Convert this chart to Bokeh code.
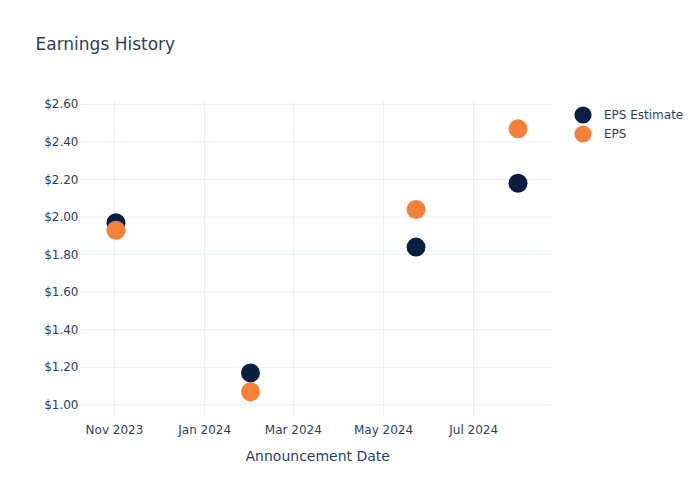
from datetime import datetime
from bokeh.plotting import figure
from bokeh.models import (ColumnDataSource, FixedTicker, DatetimeTickFormatter,
                          NumeralTickFormatter, Range1d, Legend, LegendItem, Title)
from bokeh.embed import file_html
from bokeh.resources import INLINE

# ---- data ----
dates = ["2023-11-02", "2024-02-01", "2024-05-23", "2024-07-31"]
eps_estimate = [1.97, 1.17, 1.84, 2.18]
eps_actual = [1.93, 1.07, 2.04, 2.47]
x_tick_dates = ["2023-11-01", "2024-01-01", "2024-03-01", "2024-05-01", "2024-07-01"]
y_ticks = [1.0, 1.2, 1.4, 1.6, 1.8, 2.0, 2.2, 2.4, 2.6]

FONT = "DejaVu Sans"
TXT = "#2a3f5f"
GRID = "#ebf0f8"
NAVY = "#0b1f42"
ORANGE = "#f5803a"

# plotting window (data area) and layout
X_START, X_END = "2023-10-09", "2024-08-24"
Y_START, Y_END = 0.943, 2.621
PLOT_W, FRAME_LEFT, DATA_RIGHT = 700, 80, 553


def to_dt(s):
    return datetime.strptime(s, "%Y-%m-%d")


def to_ms(s):
    return (to_dt(s) - datetime(1970, 1, 1)).total_seconds() * 1000.0


# extend the frame to the right edge so that the legend lives inside it
x0_ms, x1_ms = to_ms(X_START), to_ms(X_END)
frame_w = PLOT_W - FRAME_LEFT
data_w = DATA_RIGHT - FRAME_LEFT
x_frame_end = x0_ms + (x1_ms - x0_ms) * frame_w / data_w

src = ColumnDataSource(dict(
    date=[to_dt(d) for d in dates],
    est=eps_estimate,
    eps=eps_actual,
))

p = figure(width=PLOT_W, height=500, x_axis_type="datetime",
           output_backend="svg", toolbar_location=None,
           x_range=Range1d(x0_ms, x_frame_end),
           y_range=Range1d(Y_START, Y_END),
           min_border_left=FRAME_LEFT, min_border_right=0,
           min_border_top=100, min_border_bottom=85)

p.outline_line_color = None
p.background_fill_color = "white"
p.border_fill_color = "white"
p.title.visible = False

# title (a blank spacer title keeps it away from the frame)
spacer = Title(text=" ", text_font=FONT, text_font_size="12px", standoff=31)
p.add_layout(spacer, "above")
main_title = Title(text="Earnings History", text_font=FONT, text_font_size="17px",
                   text_font_style="normal", text_color=TXT, align="left",
                   offset=-45, standoff=0)
p.add_layout(main_title, "above")

# horizontal grid lines limited to the data area
p.ygrid.grid_line_color = None
p.segment(x0=[x0_ms] * len(y_ticks), x1=[x1_ms] * len(y_ticks),
          y0=y_ticks, y1=y_ticks, line_color=GRID, line_width=1)
p.xgrid.grid_line_color = GRID
p.xgrid.grid_line_width = 1

r_est = p.scatter("date", "est", source=src, size=19, color=NAVY, line_width=0)
r_eps = p.scatter("date", "eps", source=src, size=19, color=ORANGE, line_width=0)

# axes
xa = p.xaxis[0]
xa.ticker = FixedTicker(ticks=[to_ms(d) for d in x_tick_dates])
xa.formatter = DatetimeTickFormatter(days="%b %Y", months="%b %Y", years="%b %Y")
xa.major_label_text_font = FONT
xa.major_label_text_font_size = "12px"
xa.major_label_text_color = TXT
xa.major_tick_out = 0
xa.major_tick_in = 0
xa.major_label_standoff = 7
xa.axis_line_color = None
xa.major_tick_line_color = None
xa.minor_tick_line_color = None

# x-axis title, centred under the data area
x_title = Title(text="Announcement Date", text_font=FONT, text_font_size="14px",
                text_font_style="normal", text_color=TXT, align="left",
                offset=165, standoff=12)
p.add_layout(x_title, "below")

ya = p.yaxis[0]
ya.ticker = FixedTicker(ticks=y_ticks)
ya.formatter = NumeralTickFormatter(format="$0.00")
ya.major_label_text_font = FONT
ya.major_label_text_font_size = "12px"
ya.major_label_text_color = TXT
ya.major_tick_out = 0
ya.major_tick_in = 0
ya.major_label_standoff = 2
ya.axis_line_color = None
ya.major_tick_line_color = None
ya.minor_tick_line_color = None


def make_legend(label, renderer, loc):
    return Legend(items=[LegendItem(label=label, renderers=[renderer])],
                  location=loc, orientation="vertical",
                  glyph_width=43, glyph_height=43,
                  label_standoff=0, label_text_font=FONT,
                  label_text_font_size="12px", label_text_color=TXT,
                  label_text_baseline="middle",
                  margin=0, padding=0, border_line_color=None,
                  background_fill_color=None, background_fill_alpha=0)


p.add_layout(make_legend("EPS Estimate", r_est, (481, 279)), "center")
p.add_layout(make_legend("EPS", r_eps, (481, 260)), "center")

open("out.html", "w").write(file_html(p, INLINE))
